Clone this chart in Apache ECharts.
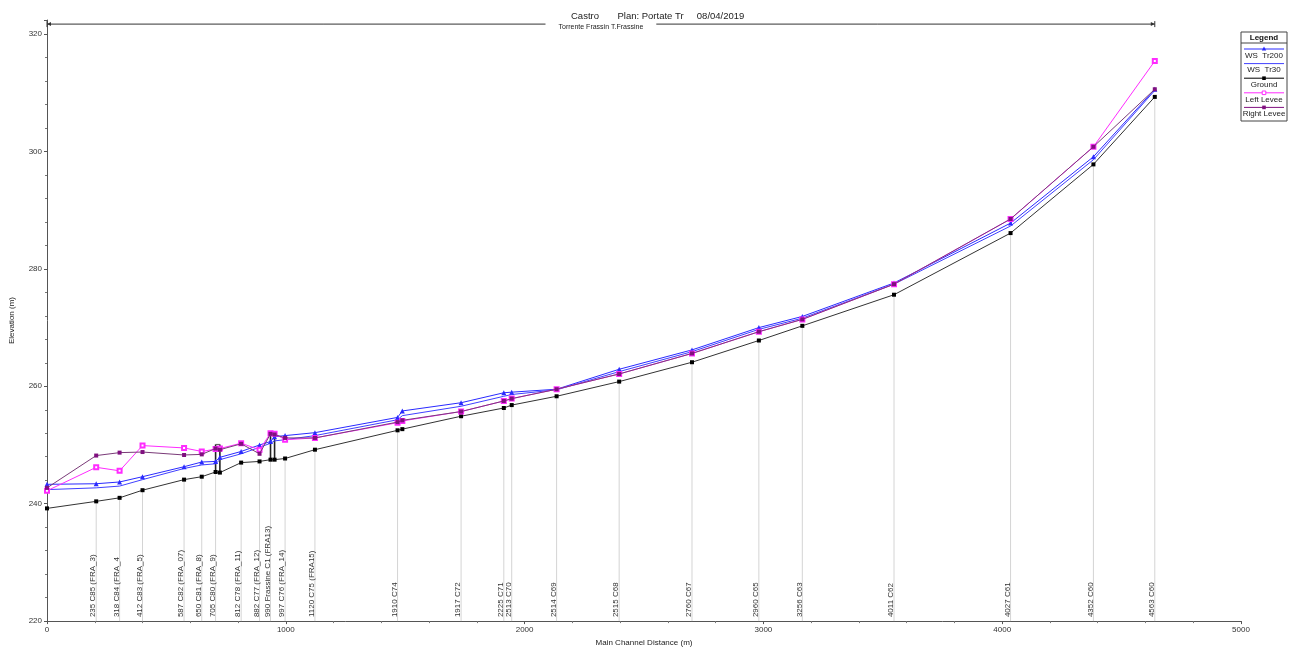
<!DOCTYPE html>
<html><head><meta charset="utf-8">
<script src="https://cdn.jsdelivr.net/npm/echarts@6/dist/echarts.min.js"></script>
<style>html,body{margin:0;padding:0;background:#fff}#c{width:1293px;height:652px}</style>
</head><body><div id="c"></div>
<script>
// Main channel distance (m) of each cross section
const distance   = [0, 206, 304, 400, 574, 648, 706, 724, 813, 890, 936, 953, 997, 1122, 1468, 1488, 1734, 1913, 1946, 2134, 2396, 2701, 2981, 3163, 3547, 4035, 4382, 4639];
const ground     = [239.2, 240.4, 241.0, 242.3, 244.1, 244.6, 245.4, 245.3, 247.0, 247.2, 247.5, 247.5, 247.7, 249.2, 252.5, 252.7, 254.9, 256.3, 256.8, 258.3, 260.8, 264.1, 267.8, 270.3, 275.6, 286.1, 297.8, 309.3];
const wsTr200    = [243.3, 243.4, 243.7, 244.6, 246.3, 247.1, 247.2, 247.9, 248.9, 250.0, 250.6, 251.4, 251.6, 252.1, 254.7, 255.8, 257.2, 258.9, 259.0, 259.5, 262.9, 266.2, 270.0, 271.9, 277.6, 287.8, 299.1, 310.6];
const wsTr30     = [242.4, 242.7, 243.0, 244.1, 246.0, 246.6, 246.8, 247.5, 248.5, 249.6, 250.3, 250.7, 250.9, 251.6, 254.3, 255.0, 256.6, 258.3, 258.6, 259.4, 262.5, 265.9, 269.7, 271.6, 277.4, 287.3, 298.6, 310.4];
const leftLevee  = [242.2, 246.2, 245.6, 249.9, 249.5, 248.9, 249.3, 249.4, 250.3, 249.2, 252.0, 251.9, 250.9, 251.2, 253.8, 254.1, 255.7, 257.5, 257.9, 259.5, 262.1, 265.6, 269.3, 271.4, 277.4, 288.5, 300.8, 315.4];
const rightLevee = [242.7, 248.2, 248.7, 248.8, 248.3, 248.4, 249.4, 249.2, 250.2, 248.5, 251.9, 251.8, 251.2, 251.2, 253.9, 254.2, 255.7, 257.5, 257.9, 259.5, 262.1, 265.6, 269.3, 271.4, 277.4, 288.5, 300.8, 310.6];
const stationLabels = ['', '235 C85 (FRA_3)', '318 C84 (FRA_4', '412 C83 (FRA_5)', '587 C82 (FRA_07)', '650 C81 (FRA_8)', '705 C80 (FRA_9)', '', '812 C78 (FRA_11)', '882 C77 (FRA_12)', '990 Frassine C1 (FRA13)', '', '997 C76 (FRA_14)', '1120 C75 (FRA15)', '1910 C74', '', '1917 C72', '2225 C71', '2513 C70', '2514 C69', '2515 C68', '2760 C67', '2960 C65', '3256 C63', '4011 C62', '4027 C61', '4352 C60', '4563 C60'];
// Bridges: upstream / downstream section index and deck elevation
const bridgeSections = [[6, 7], [10, 11]];
const bridgeDeck = [250.1, 252.2];
const reachName = 'Torrente Frassin T.Frassine';
const reachElev = 321.7;
const titleText = 'Castro       Plan: Portate Tr     08/04/2019';
const seriesNames = ['WS  Tr200', 'WS  Tr30', 'Ground', 'Left Levee', 'Right Levee'];

const FONT = 'Liberation Sans, Arial, sans-serif';
const pairs = arr => distance.map((d, i) => [d, arr[i]]);

const labelData = [];
stationLabels.forEach((t, i) => { if (t) labelData.push([distance[i], ground[i], i]); });

const chart = echarts.init(document.getElementById('c'));

const colors = { ws200: '#2a2aff', ws30: '#4040ff', ground: '#000000', left: '#ff2bff', right: '#80107f' };

// legend drawn as a box like the original
function legendGraphic() {
  const x0 = 1241, y0 = 32, w = 46, h = 89;
  const children = [
    { type: 'rect', shape: { x: x0, y: y0, width: w, height: h }, style: { fill: '#fff', stroke: '#444', lineWidth: 1 } },
    { type: 'text', x: x0 + w / 2, y: y0 + 6, style: { text: 'Legend', font: 'bold 8px ' + FONT, fill: '#111', align: 'center', verticalAlign: 'middle' } },
    { type: 'line', shape: { x1: x0, y1: y0 + 11, x2: x0 + w, y2: y0 + 11 }, style: { stroke: '#444', lineWidth: 1 } }
  ];
  const specs = [
    { c: colors.ws200, m: 'tri' }, { c: colors.ws30, m: null }, { c: colors.ground, m: 'sq' },
    { c: colors.left, m: 'esq' }, { c: colors.right, m: 'sq' }
  ];
  specs.forEach((s, k) => {
    const ly = y0 + 17 + k * 14.6;
    children.push({ type: 'line', shape: { x1: x0 + 3, y1: ly, x2: x0 + w - 3, y2: ly }, style: { stroke: s.c, lineWidth: 1 } });
    const cx = x0 + w / 2;
    if (s.m === 'tri') children.push({ type: 'polygon', shape: { points: [[cx, ly - 2.5], [cx - 2.2, ly + 1.5], [cx + 2.2, ly + 1.5]] }, style: { fill: s.c } });
    if (s.m === 'sq') children.push({ type: 'rect', shape: { x: cx - 1.8, y: ly - 1.8, width: 3.6, height: 3.6 }, style: { fill: s.c } });
    if (s.m === 'esq') children.push({ type: 'rect', shape: { x: cx - 1.8, y: ly - 1.8, width: 3.6, height: 3.6 }, style: { fill: '#fff', stroke: s.c, lineWidth: 1 } });
    children.push({ type: 'text', x: cx, y: ly + 6.5, style: { text: seriesNames[k], font: '8px ' + FONT, fill: '#222', align: 'center', verticalAlign: 'middle' } });
  });
  return [{ type: 'group', children: children, z: 100 }];
}

const option = {
  animation: false,
  backgroundColor: '#fff',
  title: { text: titleText, left: 566, top: 6, textStyle: { fontFamily: FONT, fontSize: 9.5, fontWeight: 'normal', color: '#222' } },
  grid: { left: 45, right: 52, top: 20, bottom: 28, containLabel: false },
  xAxis: {
    type: 'value', min: 0, max: 5000, interval: 1000,
    name: 'Main Channel Distance (m)', nameLocation: 'middle', nameGap: 15,
    nameTextStyle: { fontFamily: FONT, fontSize: 8, color: '#222' },
    axisLine: { lineStyle: { color: '#555', width: 1 } },
    axisTick: { show: true, length: 3, lineStyle: { color: '#555' } },
    minorTick: { show: true, splitNumber: 5, length: 2, lineStyle: { color: '#777' } },
    splitLine: { show: false },
    axisLabel: { fontFamily: FONT, fontSize: 8, color: '#333', margin: 5, formatter: v => String(v) }
  },
  yAxis: {
    type: 'value', min: 220, max: 322.4, interval: 20,
    name: 'Elevation (m)', nameLocation: 'middle', nameGap: 31,
    nameTextStyle: { fontFamily: FONT, fontSize: 8, color: '#222' },
    axisLine: { show: true, lineStyle: { color: '#555', width: 1 } },
    axisTick: { show: true, length: 3, lineStyle: { color: '#555' } },
    minorTick: { show: true, splitNumber: 5, length: 2, lineStyle: { color: '#777' } },
    splitLine: { show: false },
    axisLabel: { fontFamily: FONT, fontSize: 8, color: '#333', margin: 5,
      formatter: v => (Math.abs(v % 20) < 1e-6 ? String(v) : '') }
  },
  graphic: legendGraphic(),
  series: [
    {
      type: 'custom', name: 'stations', z: 1, silent: true,
      data: labelData, encode: { x: 0, y: 1 },
      renderItem: (params, api) => {
        const d = api.value(0), g = api.value(1), idx = api.value(2);
        const p0 = api.coord([d, g]);
        const p1 = api.coord([d, 220]);
        return {
          type: 'group', children: [
            { type: 'line', shape: { x1: p0[0], y1: p0[1], x2: p1[0], y2: p1[1] }, style: { stroke: '#d4d4d4', lineWidth: 1 } },
            { type: 'text', x: p1[0] + 1, y: p1[1] - 4, rotation: Math.PI / 2,
              style: { text: stationLabels[idx], font: '8px ' + FONT, fill: '#333', align: 'left', verticalAlign: 'bottom' } }
          ]
        };
      }
    },
    {
      type: 'custom', name: 'bridges', z: 3, silent: true,
      data: bridgeSections.map((b, k) => [distance[b[0]], distance[b[1]], bridgeDeck[k], ground[b[0]], ground[b[1]]]),
      encode: { x: [0, 1], y: [2, 3, 4] },
      renderItem: (params, api) => {
        const a0 = api.coord([api.value(0), api.value(3)]);
        const a1 = api.coord([api.value(0), api.value(2)]);
        const b0 = api.coord([api.value(1), api.value(4)]);
        const b1 = api.coord([api.value(1), api.value(2)]);
        const st = { stroke: '#222', lineWidth: 1.6 };
        return {
          type: 'group', children: [
            { type: 'line', shape: { x1: a0[0], y1: a0[1], x2: a1[0], y2: a1[1] }, style: st },
            { type: 'line', shape: { x1: b0[0], y1: b0[1], x2: b1[0], y2: b1[1] }, style: st },
            { type: 'line', shape: { x1: a1[0], y1: a1[1], x2: b1[0], y2: b1[1] }, style: { stroke: '#555', lineWidth: 1 } }
          ]
        };
      }
    },
    {
      type: 'custom', name: 'reach', z: 3, silent: true, clip: false,
      data: [[0, distance[distance.length - 1], reachElev]],
      encode: { x: [0, 1], y: 2 },
      renderItem: (params, api) => {
        const p0 = api.coord([api.value(0), api.value(2)]);
        const p1 = api.coord([api.value(1), api.value(2)]);
        const mx = (p0[0] + p1[0]) / 2;
        const st = { stroke: '#333', lineWidth: 1 };
        return {
          type: 'group', children: [
            { type: 'line', shape: { x1: p0[0], y1: p0[1], x2: p1[0], y2: p1[1] }, style: st },
            { type: 'line', shape: { x1: p0[0], y1: p0[1] - 3, x2: p0[0], y2: p0[1] + 3 }, style: st },
            { type: 'line', shape: { x1: p1[0], y1: p1[1] - 3, x2: p1[0], y2: p1[1] + 3 }, style: st },
            { type: 'polygon', shape: { points: [[p0[0], p0[1]], [p0[0] + 4, p0[1] - 2], [p0[0] + 4, p0[1] + 2]] }, style: { fill: '#333' } },
            { type: 'polygon', shape: { points: [[p1[0], p1[1]], [p1[0] - 4, p1[1] - 2], [p1[0] - 4, p1[1] + 2]] }, style: { fill: '#333' } },
            { type: 'text', x: mx, y: p0[1] + 2.5, style: { text: reachName, font: '7px ' + FONT, fill: '#222', align: 'center', verticalAlign: 'middle', backgroundColor: '#fff', padding: [0, 13] } }
          ]
        };
      }
    },
    { name: seriesNames[2], type: 'line', z: 4, data: pairs(ground), symbol: 'rect', symbolSize: 4,
      itemStyle: { color: colors.ground }, lineStyle: { color: '#333', width: 1 } },
    { name: seriesNames[1], type: 'line', z: 5, data: pairs(wsTr30), showSymbol: false, symbol: 'none',
      lineStyle: { color: colors.ws30, width: 1 } },
    { name: seriesNames[0], type: 'line', z: 6, data: pairs(wsTr200), symbol: 'triangle', symbolSize: 5,
      itemStyle: { color: colors.ws200 }, lineStyle: { color: colors.ws200, width: 1 } },
    { name: seriesNames[3], type: 'line', z: 7, data: pairs(leftLevee), symbol: 'emptyRect', symbolSize: 4,
      itemStyle: { color: colors.left, borderWidth: 1 }, lineStyle: { color: colors.left, width: 1 } },
    { name: seriesNames[4], type: 'line', z: 8, data: pairs(rightLevee), symbol: 'rect', symbolSize: 4,
      itemStyle: { color: colors.right }, lineStyle: { color: '#7a3a78', width: 1 } }
  ]
};
chart.setOption(option);
</script>
</body></html>
